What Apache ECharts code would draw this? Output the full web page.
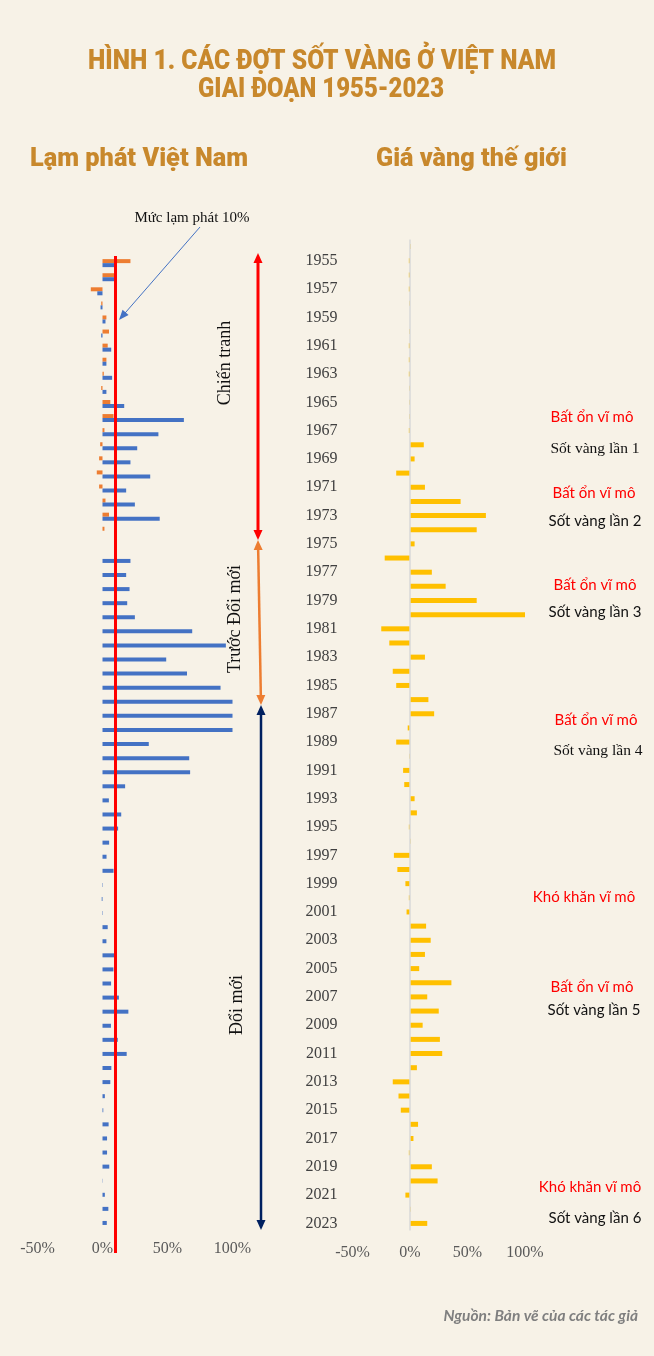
<!DOCTYPE html>
<html>
<head>
<meta charset="utf-8">
<script src="https://cdn.jsdelivr.net/npm/echarts@6/dist/echarts.min.js"></script>
<style>
html,body{margin:0;padding:0;background:#F7F2E7;}
#c{width:654px;height:1356px;}
</style>
</head>
<body>
<div id="c"></div>
<script>
const years = [1954,1955,1956,1957,1958,1959,1960,1961,1962,1963,1964,1965,1966,1967,1968,1969,
1970,1971,1972,1973,1974,1975,1976,1977,1978,1979,1980,1981,1982,1983,1984,1985,1986,1987,1988,1989,
1990,1991,1992,1993,1994,1995,1996,1997,1998,1999,2000,2001,2002,2003,2004,2005,2006,2007,2008,2009,
2010,2011,2012,2013,2014,2015,2016,2017,2018,2019,2020,2021,2022,2023];

// Inflation, North Vietnam (orange), 1954..2023 (%)
const inflationNorth = [null,21.5,9,-9,-1,3,5,4,3,1,-1,6,8.5,1.5,-1.8,-2.6,
-4.4,-2.6,2.3,5,1.5,null,null,null,null,null,null,null,null,null,null,null,null,null,null,null,
null,null,null,null,null,null,null,null,null,null,null,null,null,null,null,null,null,null,null,null,
null,null,null,null,null,null,null,null,null,null,null,null,null,null];

// Inflation, South / unified Vietnam (blue), 1954..2023 (%), capped at 100 in the chart
const inflationVN = [null,10,10.5,-4,-1.5,2.3,-1,6.7,3,7.4,3,16.7,62.6,43,26.7,21.5,
36.7,18.2,24.9,44,null,null,21.5,18.2,20.8,19,24.9,69,94.9,49,65,90.8,100,100,100,35.6,
66.7,67.4,17.4,4.9,14.4,12,5.1,3.1,8.5,-0.3,-0.6,-0.3,4,3,9.5,8.4,6.6,12.6,19.9,6.5,
11.75,18.6,6.8,6,1.8,0.6,4.7,3.5,3.5,5.2,0.2,1.8,4.5,3.3];

// World gold price change, 1954..2023 (%)
const goldChange = [0.5,-1,-1,-1,-0.5,0,-0.5,-1,-1,-1,-0.5,-0.5,-0.5,-1,12,4,
-12,13,44,66,58,4,-22,19,31,58,100,-25,-18,13,-15,-12,16,21,-2,-12,
-0.5,-6,-5,4,6,-1,0.5,-14,-11,-4,-1,-3,14,18,13,8,36,15,25,11,
26,28,6,-15,-10,-8,7,3,-1,19,24,-4,0.5,15];

const xTicks = [-50, 0, 50, 100];
const inflationThreshold = 10;

const titleColor = '#C8882C';
const heavy = "Roboto,'Liberation Sans',sans-serif";
const serif = "'Liberation Serif','DejaVu Serif',serif";
const sans = "Lato,'Liberation Sans',sans-serif";

const measureCtx = document.createElement('canvas').getContext('2d');
function fitText(text, cx, cy, font, targetW, color) {
  measureCtx.font = font;
  const w = measureCtx.measureText(text).width;
  return {type:'text', x:cx, y:cy, scaleX: targetW / w, silent:true,
    style:{text:text, font:font, fill:color, align:'center', verticalAlign:'middle'}};
}

function arrowEls(x1, y1, x2, y2, color, w, hl, hw, both) {
  const dx = x2 - x1, dy = y2 - y1, L = Math.hypot(dx, dy);
  const ux = dx / L, uy = dy / L, px = -uy, py = ux;
  const els = [];
  const sx = both ? x1 + ux * hl * 0.8 : x1, sy = both ? y1 + uy * hl * 0.8 : y1;
  const ex = x2 - ux * hl * 0.8, ey = y2 - uy * hl * 0.8;
  els.push({type:'line', shape:{x1:sx,y1:sy,x2:ex,y2:ey}, style:{stroke:color,lineWidth:w}, silent:true});
  const head = (tx, ty, dirx, diry) => {
    const bx = tx - dirx * hl, by = ty - diry * hl;
    return {type:'polygon', shape:{points:[[tx,ty],[bx+px*hw,by+py*hw],[bx-px*hw,by-py*hw]]},
            style:{fill:color}, silent:true};
  };
  els.push(head(x2, y2, ux, uy));
  if (both) els.push(head(x1, y1, -ux, -uy));
  return els;
}

function txt(text, x, y, opts) {
  return {type:'text', x:x, y:y, silent:true,
    style:Object.assign({text:text, align:'center', verticalAlign:'middle'}, opts)};
}

const graphics = [
  fitText('HÌNH 1. CÁC ĐỢT SỐT VÀNG Ở VIỆT NAM', 322, 62, "900 28px "+heavy, 468, titleColor),
  fitText('GIAI ĐOẠN 1955-2023', 321, 90, "900 28px "+heavy, 246, titleColor),
  fitText('Lạm phát Việt Nam', 139, 160, "900 25px "+heavy, 218, titleColor),
  fitText('Giá vàng thế giới', 471.5, 160, "900 25px "+heavy, 191, titleColor),
  txt('Mức lạm phát 10%', 192, 218, {font:"15px "+serif, fill:'#111'}),
  txt('Nguồn: Bản vẽ của các tác giả', 638, 1316, {font:"italic bold 15.5px "+sans, fill:'#7F7F7F', align:'right'}),
  Object.assign(txt('Chiến tranh', 225, 363, {font:"18px "+serif, fill:'#111'}), {rotation:Math.PI/2}),
  Object.assign(txt('Trước Đổi mới', 235, 619, {font:"18px "+serif, fill:'#111'}), {rotation:Math.PI/2}),
  Object.assign(txt('Đổi mới', 237, 1005, {font:"18px "+serif, fill:'#111'}), {rotation:Math.PI/2}),
  txt('Bất ổn vĩ mô', 592, 417, {font:"15px "+sans, fill:'#FF0000'}),
  txt('Sốt vàng lần 1', 595, 449, {font:"15.5px "+serif, fill:'#111'}),
  txt('Bất ổn vĩ mô', 594, 493, {font:"15px "+sans, fill:'#FF0000'}),
  txt('Sốt vàng lần 2', 595, 521, {font:"15px "+sans, fill:'#111'}),
  txt('Bất ổn vĩ mô', 595, 585, {font:"15px "+sans, fill:'#FF0000'}),
  txt('Sốt vàng lần 3', 595, 612, {font:"15px "+sans, fill:'#111'}),
  txt('Bất ổn vĩ mô', 596, 720, {font:"15px "+sans, fill:'#FF0000'}),
  txt('Sốt vàng lần 4', 598, 751, {font:"15.5px "+serif, fill:'#111'}),
  txt('Khó khăn vĩ mô', 584, 897, {font:"15px "+sans, fill:'#FF0000'}),
  txt('Bất ổn vĩ mô', 592, 987, {font:"15px "+sans, fill:'#FF0000'}),
  txt('Sốt vàng lần 5', 594, 1010, {font:"15px "+sans, fill:'#111'}),
  txt('Khó khăn vĩ mô', 590, 1187, {font:"15px "+sans, fill:'#FF0000'}),
  txt('Sốt vàng lần 6', 595, 1218, {font:"15px "+sans, fill:'#111'})
].concat(
  arrowEls(200, 227, 119, 320, '#4472C4', 1, 10, 4, false),
  arrowEls(258, 253, 258, 540, '#FF0000', 3, 10, 4.5, true),
  arrowEls(258, 540, 261, 705, '#ED7D31', 2.5, 10, 4.5, true),
  arrowEls(261, 705, 261, 1230, '#002060', 2.5, 10, 4.5, true)
);

const axisLabelStyle = {fontFamily:serif, fontSize:16, color:'#595959', formatter:'{value}%'};

const option = {
  backgroundColor:'#F7F2E7',
  animation:false,
  grid:[
    {left:37.5, width:195, top:242, height:986},
    {left:352.5, width:172.5, top:239.5, height:991},
    {left:37.5, width:195, top:256, height:997}
  ],
  xAxis:[
    {gridIndex:0, type:'value', min:xTicks[0], max:xTicks[3], interval:50,
     axisLine:{show:false}, axisTick:{show:false}, splitLine:{show:false},
     axisLabel:Object.assign({margin:13}, axisLabelStyle)},
    {gridIndex:1, type:'value', min:xTicks[0], max:xTicks[3], interval:50,
     axisLine:{show:false}, axisTick:{show:false}, splitLine:{show:false},
     axisLabel:Object.assign({margin:14}, axisLabelStyle)},
    {gridIndex:2, type:'value', min:xTicks[0], max:xTicks[3], show:false}
  ],
  yAxis:[
    {gridIndex:0, type:'category', data:years, inverse:true, show:false},
    {gridIndex:1, type:'category', data:years, inverse:true,
     axisLine:{show:false, onZero:false}, axisTick:{show:false},
     axisLabel:{margin:15, fontFamily:serif, fontSize:16, color:'#404040',
       interval:function(i, v){ return Number(v) % 2 === 1; }}},
    {gridIndex:2, type:'value', min:0, max:1, show:false}
  ],
  series:[
    {name:'Miền Bắc', type:'bar', xAxisIndex:0, yAxisIndex:0, data:inflationNorth,
     barWidth:4, barGap:'0%', itemStyle:{color:'#ED7D31'}, silent:true},
    {name:'Việt Nam', type:'bar', xAxisIndex:0, yAxisIndex:0, data:inflationVN,
     barWidth:4, barGap:'0%', itemStyle:{color:'#4472C4'}, silent:true},
    {name:'Giá vàng', type:'bar', xAxisIndex:1, yAxisIndex:1, data:goldChange,
     barWidth:5, itemStyle:{color:'#FFC000'}, silent:true,
     markLine:{silent:true, symbol:'none', label:{show:false},
       lineStyle:{color:'#D9D9D9', width:1.5, type:'solid'}, data:[{xAxis:0}]}},
    {name:'Mức lạm phát 10%', type:'line', xAxisIndex:2, yAxisIndex:2,
     data:[[inflationThreshold,0],[inflationThreshold,1]], symbol:'none', silent:true,
     lineStyle:{color:'#FF0000', width:3}}
  ],
  graphic:graphics
};

const chart = echarts.init(document.getElementById('c'));
chart.setOption(option);
</script>
</body>
</html>
